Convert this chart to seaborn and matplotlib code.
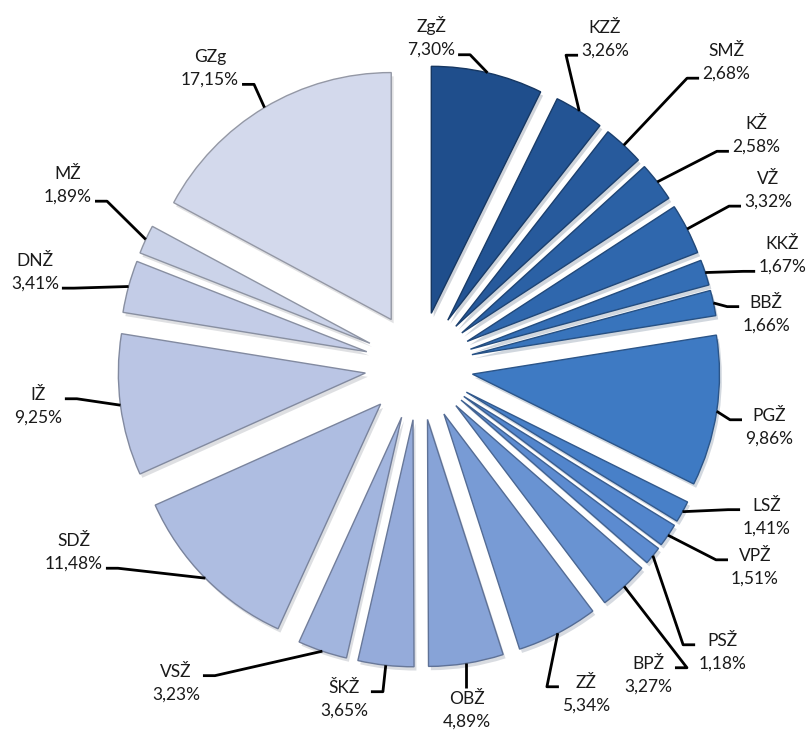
import seaborn as sns
import matplotlib.pyplot as plt
import numpy as np
from matplotlib.patches import Shadow

# share of each railway section, clockwise from 12 o'clock
names = ['ZgŽ', 'KZŽ', 'SMŽ', 'KŽ', 'VŽ', 'KKŽ', 'BBŽ', 'PGŽ', 'LSŽ', 'VPŽ', 'PSŽ',
         'BPŽ', 'ZŽ', 'OBŽ', 'ŠKŽ', 'VSŽ', 'SDŽ', 'IŽ', 'DNŽ', 'MŽ', 'GZg']
shares = [7.30, 3.26, 2.68, 2.58, 3.32, 1.67, 1.66, 9.86, 1.41, 1.51, 1.18,
          3.27, 5.34, 4.89, 3.65, 3.23, 11.48, 9.25, 3.41, 1.89, 17.15]

# label placement (pie radius = 1)
label_x = [0.049, 0.753, 1.243, 1.364, 1.413, 1.470, 1.405, 1.417, 1.409, 1.360, 1.227,
           0.927, 0.676, 0.194, -0.304, -0.984, -1.397, -1.543, -1.555, -1.421, -0.846]
label_y = [1.332, 1.324, 1.231, 0.935, 0.713, 0.449, 0.211, -0.247, -0.611, -0.814, -1.158,
           -1.251, -1.328, -1.393, -1.348, -1.283, -0.753, -0.162, 0.381, 0.733, 1.206]

sns.set_theme(style="white")
plt.rcParams['font.family'] = ['Lato', 'DejaVu Sans']

colors = sns.blend_palette(["#1F4E8C", "#2C63A8", "#3B78C2", "#5B8BD0",
                            "#8CA5D8", "#B7C3E3", "#D3D9EC"], len(shares))

fig = plt.figure(figsize=(8.08, 7.31), dpi=100)
ax = fig.add_axes([0, 0, 1, 1])

px = 247.0
cx, cy = 419.0, 366.0

wedges, _ = ax.pie(shares, colors=colors, startangle=90, counterclock=False,
                   explode=[0.219] * len(shares), radius=1.0,
                   wedgeprops=dict(linewidth=1.0), frame=False)
ax.set_xlim(-cx / px, (808 - cx) / px)
ax.set_ylim(-(731 - cy) / px, cy / px)
ax.set_aspect('equal')
ax.axis('off')

for w, c in zip(wedges, colors):
    w.set_edgecolor(tuple(np.array(c) * 0.7))
    sh = Shadow(w, 0.007, -0.011, shade=0.5, alpha=0.2, linewidth=0)
    sh.set_zorder(w.get_zorder() - 0.1)
    ax.add_patch(sh)

texts = []
for name, val, x, y in zip(names, shares, label_x, label_y):
    lab = f"{name}\n{val:.2f}%".replace('.', ',')
    t = ax.text(x, y, lab, ha='center', va='center', fontsize=12.5,
                linespacing=1.5, color='#1a1a1a')
    texts.append(t)

fig.canvas.draw()
renderer = fig.canvas.get_renderer()
inv = ax.transData.inverted()
gap = 3 / px
hook = 12 / px

for w, t in zip(wedges, texts):
    mid = np.deg2rad((w.theta1 + w.theta2) / 2)
    ax0 = w.center[0] + w.r * np.cos(mid)
    ay0 = w.center[1] + w.r * np.sin(mid)
    bb = t.get_window_extent(renderer)
    (x0, y0), (x1, y1) = inv.transform([[bb.x0, bb.y0], [bb.x1, bb.y1]])
    tcy = (y0 + y1) / 2
    if ay0 < tcy:
        hy = y0 + 3 / px
    else:
        hy = y1 - 12 / px
    if x0 + 10 / px <= ax0 <= x1 - 10 / px:
        ey = y0 - gap if ay0 < tcy else y1 + gap
        xs, ys = [ax0, ax0], [ay0, ey]
    elif ax0 < x0:
        ex = x0 - gap
        xs, ys = [ax0, ex - hook, ex], [ay0, hy, hy]
    else:
        ex = x1 + gap
        xs, ys = [ax0, ex + hook, ex], [ay0, hy, hy]
    ax.plot(xs, ys, color='black', lw=2.0, solid_capstyle='butt', zorder=5)

fig.savefig('out.png', dpi=100)
